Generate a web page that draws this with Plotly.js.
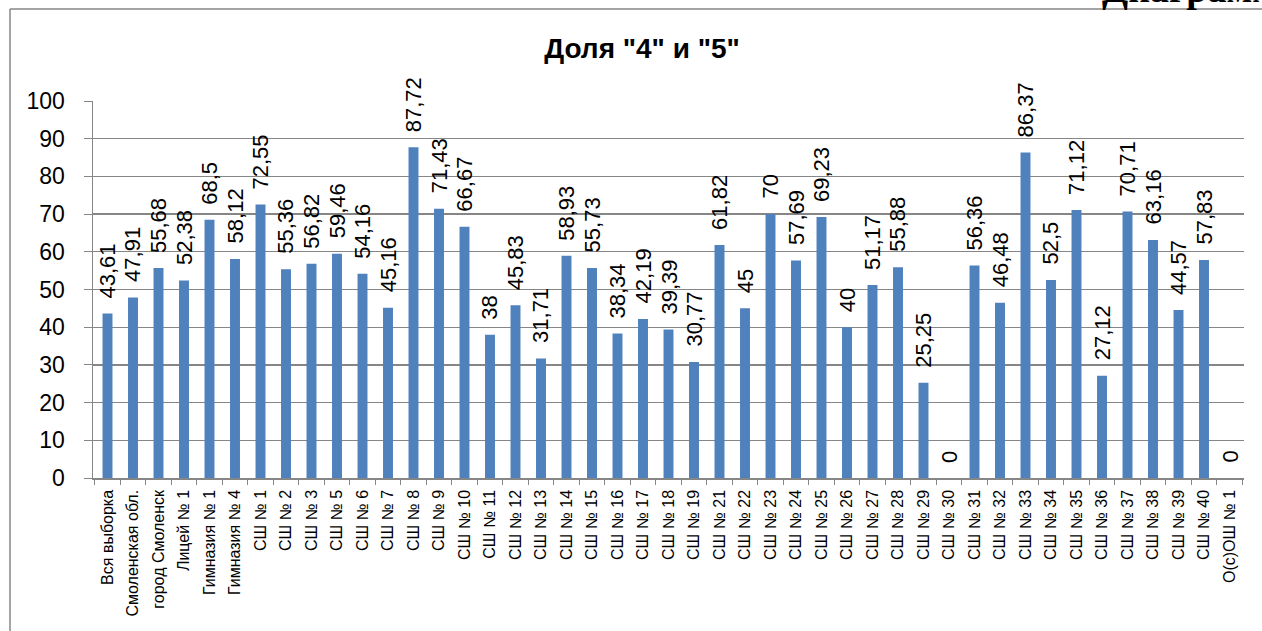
<!DOCTYPE html>
<html>
<head>
<meta charset="utf-8">
<script src="https://cdn.plot.ly/plotly-3.0.1.min.js"></script>
<style>
html,body{margin:0;padding:0;background:#fff;overflow:hidden;}
#chart{width:1262px;height:631px;}
</style>
</head>
<body>
<div id="chart"></div>
<script>
const categories = [
  "Вся выборка","Смоленская обл.","город Смоленск","Лицей № 1","Гимназия № 1","Гимназия № 4",
  "СШ № 1","СШ № 2","СШ № 3","СШ № 5","СШ № 6","СШ № 7","СШ № 8","СШ № 9","СШ № 10",
  "СШ № 11","СШ № 12","СШ № 13","СШ № 14","СШ № 15","СШ № 16","СШ № 17","СШ № 18","СШ № 19",
  "СШ № 21","СШ № 22","СШ № 23","СШ № 24","СШ № 25","СШ № 26","СШ № 27","СШ № 28","СШ № 29",
  "СШ № 30","СШ № 31","СШ № 32","СШ № 33","СШ № 34","СШ № 35","СШ № 36","СШ № 37","СШ № 38",
  "СШ № 39","СШ № 40","О(с)ОШ № 1"
];
const values = [
  43.61,47.91,55.68,52.38,68.5,58.12,
  72.55,55.36,56.82,59.46,54.16,45.16,87.72,71.43,66.67,
  38,45.83,31.71,58.93,55.73,38.34,42.19,39.39,30.77,
  61.82,45,70,57.69,69.23,40,51.17,55.88,25.25,
  0,56.36,46.48,86.37,52.5,71.12,27.12,70.71,63.16,
  44.57,57.83,0
];
const yTicks = [0,10,20,30,40,50,60,70,80,90,100];
const chartTitle = 'Доля "4" и "5"';
const cornerText = "Диаграмма";

const labels = values.map(v => String(v).replace('.', ','));
const gray = '#868686';

const annotations = categories.map((c, i) => ({
  x: c, y: values[i], xref: 'x', yref: 'y',
  text: labels[i], textangle: -90, showarrow: false,
  xanchor: 'center', yanchor: 'bottom', yshift: 13,
  font: {family: 'Liberation Sans, Arial, sans-serif', size: 22, color: '#000'}
}));
annotations.push({
  xref: 'paper', yref: 'paper', x: 0.875, y: 1.2363,
  xanchor: 'left', yanchor: 'bottom', showarrow: false,
  text: '<b>' + cornerText + '</b>',
  font: {family: 'Liberation Serif, Times New Roman, serif', size: 38, color: '#000'}
});

const trace = {
  type: 'bar', x: categories, y: values,
  marker: {color: '#4F81BD', line: {width: 0}},
  hoverinfo: 'x+y'
};

const layout = {
  width: 1262, height: 631,
  margin: {l: 93, r: 18, t: 101, b: 153, pad: 0},
  paper_bgcolor: '#fff', plot_bgcolor: '#fff',
  bargap: 0.61,
  showlegend: false,
  title: {
    text: '<b>' + chartTitle + '</b>',
    xref: 'container', yref: 'container', x: 0.5087, y: 0.924,
    xanchor: 'center', yanchor: 'middle',
    font: {family: 'Liberation Sans, Arial, sans-serif', size: 28, color: '#000'}
  },
  xaxis: {
    type: 'category', tickangle: -90,
    tickson: 'boundaries', ticks: 'outside', ticklen: 5, tickcolor: gray, tickwidth: 1,
    showline: true, linecolor: gray, linewidth: 1.5,
    showgrid: false, zeroline: false,
    tickfont: {family: 'Liberation Sans, Arial, sans-serif', size: 16, color: '#000'},
    ticklabelstandoff: 4
  },
  yaxis: {
    range: [0, 100], tickvals: yTicks, ticktext: yTicks.map(String),
    ticks: 'outside', ticklen: 8, tickcolor: gray, tickwidth: 1,
    showline: true, linecolor: gray, linewidth: 1.5,
    showgrid: true, gridcolor: gray, gridwidth: 1.3, zeroline: false,
    tickfont: {family: 'Liberation Sans, Arial, sans-serif', size: 23, color: '#000'},
    ticklabelstandoff: 14
  },
  annotations: annotations,
  shapes: [
    {type: 'line', xref: 'paper', yref: 'paper', x0: -0.0721, x1: -0.0721, y0: -1, y1: 1.244,
     line: {color: gray, width: 1.5}, layer: 'above'},
    {type: 'line', xref: 'paper', yref: 'paper', x0: -0.0721, x1: 1.1, y0: 1.244, y1: 1.244,
     line: {color: gray, width: 1.5}, layer: 'above'}
  ]
};

Plotly.newPlot('chart', [trace], layout, {displayModeBar: false, staticPlot: true});
</script>
</body>
</html>
